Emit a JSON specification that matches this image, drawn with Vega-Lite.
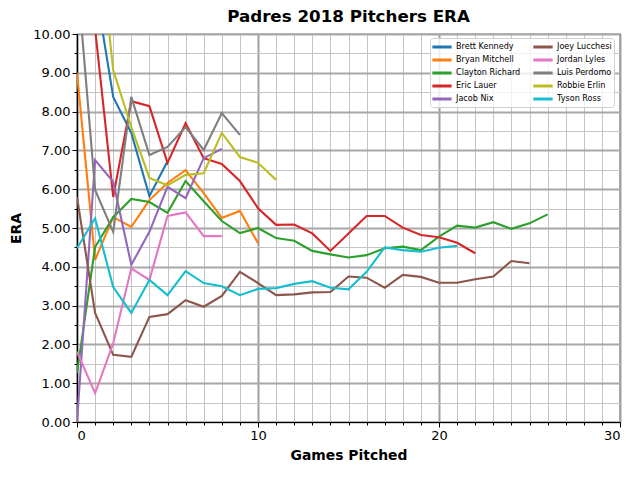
{
  "$schema": "https://vega.github.io/schema/vega-lite/v6.json",
  "width": 543,
  "height": 388,
  "autosize": {"type": "none"},
  "padding": {"left": 77, "top": 34, "right": 20, "bottom": 58},
  "background": "white",
  "title": {"text": "Padres 2018 Pitchers ERA", "font": "DejaVu Sans", "fontSize": 16.7, "fontWeight": "bold", "color": "#000", "offset": 2},
  "config": {
    "view": {"stroke": "#000", "strokeWidth": 1.2},
    "axis": {"labelFont": "DejaVu Sans", "labelFontSize": 13, "labelColor": "#000", "titleFont": "DejaVu Sans", "titleFontSize": 13.9, "titleFontWeight": "bold", "titleColor": "#000", "domainColor": "#000", "tickColor": "#000"}
  },
  "data": {"values": [
    {"p": "Brett Kennedy", "g": 0, "era": 18.0}, {"p": "Brett Kennedy", "g": 1, "era": 11.25}, {"p": "Brett Kennedy", "g": 2, "era": 8.38}, {"p": "Brett Kennedy", "g": 3, "era": 7.45}, {"p": "Brett Kennedy", "g": 4, "era": 5.82}, {"p": "Brett Kennedy", "g": 5, "era": 6.72},
    {"p": "Bryan Mitchell", "g": 0, "era": 9.0}, {"p": "Bryan Mitchell", "g": 1, "era": 4.18}, {"p": "Bryan Mitchell", "g": 2, "era": 5.28}, {"p": "Bryan Mitchell", "g": 3, "era": 5.03}, {"p": "Bryan Mitchell", "g": 4, "era": 5.72}, {"p": "Bryan Mitchell", "g": 5, "era": 6.16}, {"p": "Bryan Mitchell", "g": 6, "era": 6.49}, {"p": "Bryan Mitchell", "g": 7, "era": 5.9}, {"p": "Bryan Mitchell", "g": 8, "era": 5.26}, {"p": "Bryan Mitchell", "g": 9, "era": 5.44}, {"p": "Bryan Mitchell", "g": 10, "era": 4.61},
    {"p": "Clayton Richard", "g": 0, "era": 1.26}, {"p": "Clayton Richard", "g": 1, "era": 4.51}, {"p": "Clayton Richard", "g": 2, "era": 5.28}, {"p": "Clayton Richard", "g": 3, "era": 5.75}, {"p": "Clayton Richard", "g": 4, "era": 5.67}, {"p": "Clayton Richard", "g": 5, "era": 5.39}, {"p": "Clayton Richard", "g": 6, "era": 6.21}, {"p": "Clayton Richard", "g": 7, "era": 5.69}, {"p": "Clayton Richard", "g": 8, "era": 5.18}, {"p": "Clayton Richard", "g": 9, "era": 4.87}, {"p": "Clayton Richard", "g": 10, "era": 5.0}, {"p": "Clayton Richard", "g": 11, "era": 4.74}, {"p": "Clayton Richard", "g": 12, "era": 4.67}, {"p": "Clayton Richard", "g": 13, "era": 4.41}, {"p": "Clayton Richard", "g": 14, "era": 4.32}, {"p": "Clayton Richard", "g": 15, "era": 4.24}, {"p": "Clayton Richard", "g": 16, "era": 4.3}, {"p": "Clayton Richard", "g": 17, "era": 4.48}, {"p": "Clayton Richard", "g": 18, "era": 4.52}, {"p": "Clayton Richard", "g": 19, "era": 4.43}, {"p": "Clayton Richard", "g": 20, "era": 4.78}, {"p": "Clayton Richard", "g": 21, "era": 5.06}, {"p": "Clayton Richard", "g": 22, "era": 5.01}, {"p": "Clayton Richard", "g": 23, "era": 5.15}, {"p": "Clayton Richard", "g": 24, "era": 4.98}, {"p": "Clayton Richard", "g": 25, "era": 5.12}, {"p": "Clayton Richard", "g": 26, "era": 5.35},
    {"p": "Eric Lauer", "g": 0, "era": 18.0}, {"p": "Eric Lauer", "g": 1, "era": 10.13}, {"p": "Eric Lauer", "g": 2, "era": 5.8}, {"p": "Eric Lauer", "g": 3, "era": 8.27}, {"p": "Eric Lauer", "g": 4, "era": 8.14}, {"p": "Eric Lauer", "g": 5, "era": 6.68}, {"p": "Eric Lauer", "g": 6, "era": 7.7}, {"p": "Eric Lauer", "g": 7, "era": 6.8}, {"p": "Eric Lauer", "g": 8, "era": 6.65}, {"p": "Eric Lauer", "g": 9, "era": 6.21}, {"p": "Eric Lauer", "g": 10, "era": 5.51}, {"p": "Eric Lauer", "g": 11, "era": 5.08}, {"p": "Eric Lauer", "g": 12, "era": 5.09}, {"p": "Eric Lauer", "g": 13, "era": 4.86}, {"p": "Eric Lauer", "g": 14, "era": 4.41}, {"p": "Eric Lauer", "g": 15, "era": 4.86}, {"p": "Eric Lauer", "g": 16, "era": 5.31}, {"p": "Eric Lauer", "g": 17, "era": 5.31}, {"p": "Eric Lauer", "g": 18, "era": 5.01}, {"p": "Eric Lauer", "g": 19, "era": 4.82}, {"p": "Eric Lauer", "g": 20, "era": 4.76}, {"p": "Eric Lauer", "g": 21, "era": 4.62}, {"p": "Eric Lauer", "g": 22, "era": 4.35},
    {"p": "Jacob Nix", "g": 0, "era": 0.0}, {"p": "Jacob Nix", "g": 1, "era": 6.75}, {"p": "Jacob Nix", "g": 2, "era": 6.19}, {"p": "Jacob Nix", "g": 3, "era": 4.05}, {"p": "Jacob Nix", "g": 4, "era": 4.9}, {"p": "Jacob Nix", "g": 5, "era": 6.06}, {"p": "Jacob Nix", "g": 6, "era": 5.77}, {"p": "Jacob Nix", "g": 7, "era": 6.8}, {"p": "Jacob Nix", "g": 8, "era": 7.04},
    {"p": "Joey Lucchesi", "g": 0, "era": 5.8}, {"p": "Joey Lucchesi", "g": 1, "era": 2.81}, {"p": "Joey Lucchesi", "g": 2, "era": 1.73}, {"p": "Joey Lucchesi", "g": 3, "era": 1.68}, {"p": "Joey Lucchesi", "g": 4, "era": 2.71}, {"p": "Joey Lucchesi", "g": 5, "era": 2.78}, {"p": "Joey Lucchesi", "g": 6, "era": 3.14}, {"p": "Joey Lucchesi", "g": 7, "era": 2.97}, {"p": "Joey Lucchesi", "g": 8, "era": 3.25}, {"p": "Joey Lucchesi", "g": 9, "era": 3.87}, {"p": "Joey Lucchesi", "g": 10, "era": 3.58}, {"p": "Joey Lucchesi", "g": 11, "era": 3.27}, {"p": "Joey Lucchesi", "g": 12, "era": 3.29}, {"p": "Joey Lucchesi", "g": 13, "era": 3.34}, {"p": "Joey Lucchesi", "g": 14, "era": 3.35}, {"p": "Joey Lucchesi", "g": 15, "era": 3.75}, {"p": "Joey Lucchesi", "g": 16, "era": 3.72}, {"p": "Joey Lucchesi", "g": 17, "era": 3.46}, {"p": "Joey Lucchesi", "g": 18, "era": 3.79}, {"p": "Joey Lucchesi", "g": 19, "era": 3.74}, {"p": "Joey Lucchesi", "g": 20, "era": 3.59}, {"p": "Joey Lucchesi", "g": 21, "era": 3.59}, {"p": "Joey Lucchesi", "g": 22, "era": 3.68}, {"p": "Joey Lucchesi", "g": 23, "era": 3.75}, {"p": "Joey Lucchesi", "g": 24, "era": 4.15}, {"p": "Joey Lucchesi", "g": 25, "era": 4.09},
    {"p": "Jordan Lyles", "g": 0, "era": 1.81}, {"p": "Jordan Lyles", "g": 1, "era": 0.74}, {"p": "Jordan Lyles", "g": 2, "era": 2.03}, {"p": "Jordan Lyles", "g": 3, "era": 3.96}, {"p": "Jordan Lyles", "g": 4, "era": 3.66}, {"p": "Jordan Lyles", "g": 5, "era": 5.31}, {"p": "Jordan Lyles", "g": 6, "era": 5.4}, {"p": "Jordan Lyles", "g": 7, "era": 4.79}, {"p": "Jordan Lyles", "g": 8, "era": 4.79},
    {"p": "Luis Perdomo", "g": 0, "era": 11.57}, {"p": "Luis Perdomo", "g": 1, "era": 5.98}, {"p": "Luis Perdomo", "g": 2, "era": 4.9}, {"p": "Luis Perdomo", "g": 3, "era": 8.38}, {"p": "Luis Perdomo", "g": 4, "era": 6.88}, {"p": "Luis Perdomo", "g": 5, "era": 7.09}, {"p": "Luis Perdomo", "g": 6, "era": 7.6}, {"p": "Luis Perdomo", "g": 7, "era": 7.01}, {"p": "Luis Perdomo", "g": 8, "era": 7.96}, {"p": "Luis Perdomo", "g": 9, "era": 7.4},
    {"p": "Robbie Erlin", "g": 0, "era": 27.0}, {"p": "Robbie Erlin", "g": 1, "era": 13.5}, {"p": "Robbie Erlin", "g": 2, "era": 9.07}, {"p": "Robbie Erlin", "g": 3, "era": 7.6}, {"p": "Robbie Erlin", "g": 4, "era": 6.29}, {"p": "Robbie Erlin", "g": 5, "era": 6.1}, {"p": "Robbie Erlin", "g": 6, "era": 6.37}, {"p": "Robbie Erlin", "g": 7, "era": 6.41}, {"p": "Robbie Erlin", "g": 8, "era": 7.45}, {"p": "Robbie Erlin", "g": 9, "era": 6.83}, {"p": "Robbie Erlin", "g": 10, "era": 6.68}, {"p": "Robbie Erlin", "g": 11, "era": 6.24},
    {"p": "Tyson Ross", "g": 0, "era": 4.48}, {"p": "Tyson Ross", "g": 1, "era": 5.25}, {"p": "Tyson Ross", "g": 2, "era": 3.48}, {"p": "Tyson Ross", "g": 3, "era": 2.81}, {"p": "Tyson Ross", "g": 4, "era": 3.66}, {"p": "Tyson Ross", "g": 5, "era": 3.27}, {"p": "Tyson Ross", "g": 6, "era": 3.89}, {"p": "Tyson Ross", "g": 7, "era": 3.58}, {"p": "Tyson Ross", "g": 8, "era": 3.5}, {"p": "Tyson Ross", "g": 9, "era": 3.27}, {"p": "Tyson Ross", "g": 10, "era": 3.43}, {"p": "Tyson Ross", "g": 11, "era": 3.45}, {"p": "Tyson Ross", "g": 12, "era": 3.56}, {"p": "Tyson Ross", "g": 13, "era": 3.63}, {"p": "Tyson Ross", "g": 14, "era": 3.46}, {"p": "Tyson Ross", "g": 15, "era": 3.42}, {"p": "Tyson Ross", "g": 16, "era": 3.87}, {"p": "Tyson Ross", "g": 17, "era": 4.5}, {"p": "Tyson Ross", "g": 18, "era": 4.43}, {"p": "Tyson Ross", "g": 19, "era": 4.39}, {"p": "Tyson Ross", "g": 20, "era": 4.49}, {"p": "Tyson Ross", "g": 21, "era": 4.54}
  ]},
  "mark": {"type": "line", "clip": true, "strokeWidth": 2.1},
  "encoding": {
    "x": {"field": "g", "type": "quantitative", "scale": {"domain": [0, 30], "nice": false, "zero": false},
      "axis": {"title": "Games Pitched", "titlePadding": 6,
        "values": [0,1,2,3,4,5,6,7,8,9,10,11,12,13,14,15,16,17,18,19,20,21,22,23,24,25,26,27,28,29,30],
        "labelExpr": "datum.value % 10 === 0 ? format(datum.value, 'd') : ''",
        "labelPadding": 2,
        "grid": true,
        "gridColor": {"condition": {"test": "datum.value % 10 === 0", "value": "#a0a0a0"}, "value": "#c4c4c4"},
        "gridWidth": {"condition": {"test": "datum.value % 10 === 0", "value": 2}, "value": 1},
        "tickSize": {"condition": {"test": "datum.value % 10 === 0", "value": 5}, "value": 3},
        "domainWidth": 1.2}},
    "y": {"field": "era", "type": "quantitative", "scale": {"domain": [0, 10], "nice": false, "zero": false},
      "axis": {"title": "ERA", "titlePadding": 9,
        "values": [0,0.5,1,1.5,2,2.5,3,3.5,4,4.5,5,5.5,6,6.5,7,7.5,8,8.5,9,9.5,10],
        "labelExpr": "datum.value % 1 === 0 ? format(datum.value, '.2f') : ''",
        "labelPadding": 2,
        "grid": true,
        "gridColor": {"condition": {"test": "datum.value % 1 === 0", "value": "#a8a8a8"}, "value": "#c4c4c4"},
        "gridWidth": {"condition": {"test": "datum.value % 1 === 0", "value": 2}, "value": 1},
        "tickSize": {"condition": {"test": "datum.value % 1 === 0", "value": 5}, "value": 3},
        "domainWidth": 1.2}},
    "color": {"field": "p", "type": "nominal",
      "scale": {
        "domain": ["Brett Kennedy", "Bryan Mitchell", "Clayton Richard", "Eric Lauer", "Jacob Nix", "Joey Lucchesi", "Jordan Lyles", "Luis Perdomo", "Robbie Erlin", "Tyson Ross"],
        "range": ["#1f77b4", "#ff7f0e", "#2ca02c", "#d62728", "#9467bd", "#8c564b", "#e377c2", "#7f7f7f", "#bcbd22", "#17becf"]},
      "legend": {"title": null, "orient": "none", "legendX": 353, "legendY": 4, "columns": 2, "columnPadding": 6, "rowPadding": -1,
        "symbolType": "M-1.75,0H1.75", "symbolSize": 121, "symbolStrokeWidth": 3, "symbolOffset": 3, "symbolFillColor": "transparent",
        "labelFont": "DejaVu Sans", "labelFontSize": 8.1, "labelColor": "#000", "labelOffset": 7, "labelLimit": 200,
        "padding": 2, "strokeColor": "#d0d0d0", "fillColor": "rgba(255,255,255,0.8)", "cornerRadius": 3}}
  }
}
